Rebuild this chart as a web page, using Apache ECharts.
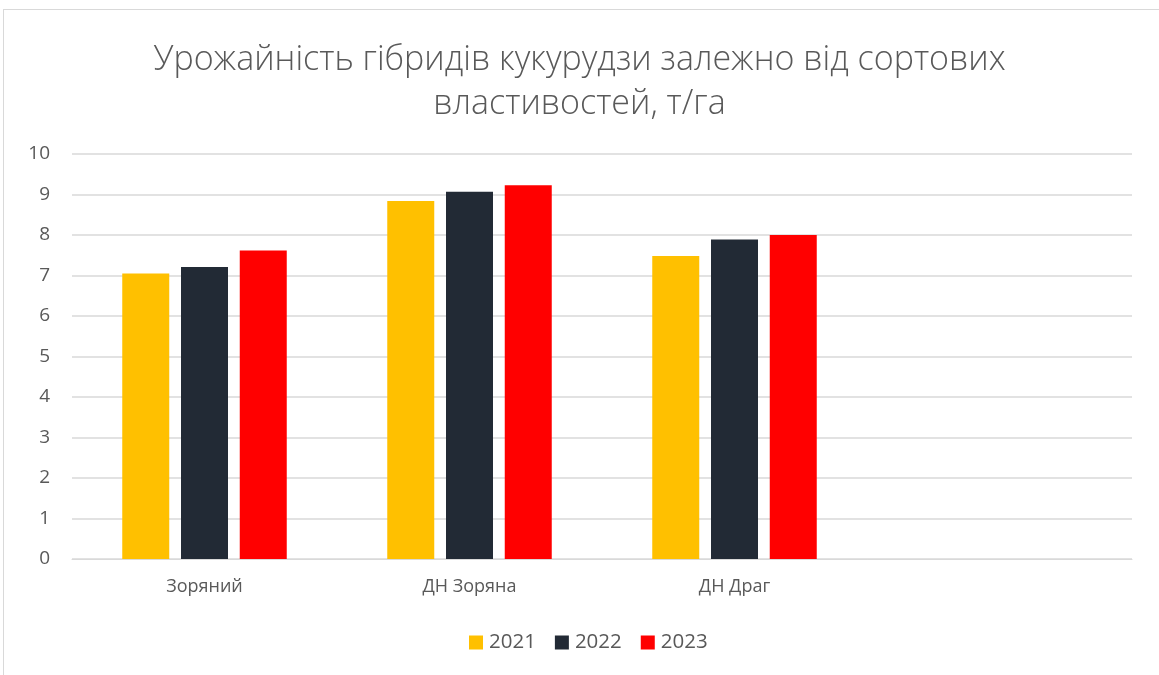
<!DOCTYPE html>
<html>
<head>
<meta charset="utf-8">
<script src="https://cdn.jsdelivr.net/npm/echarts@6/dist/echarts.min.js"></script>
<style>
  html, body { margin: 0; padding: 0; background: #fff; }
  .frame {
    position: absolute; left: 3px; top: 9px; width: 1170px; height: 680px;
    border: 1px solid #d9d9d9; box-sizing: border-box;
  }
  #chart { position: absolute; left: 0; top: 0; width: 1159px; height: 675px; }
</style>
</head>
<body>
<div class="frame"></div>
<div id="chart"></div>
<script>
// categories (the 4th slot is empty in the original)
const hybrids = ['Зоряний', 'ДН Зоряна', 'ДН Драг', '']
const years = ['2021', '2022', '2023']
const yield2021 = [7.05, 8.84, 7.48, null]
const yield2022 = [7.21, 9.07, 7.89, null]
const yield2023 = [7.62, 9.23, 8.0, null]
const colors = ['#FFC000', '#222A35', '#FF0000']

const font = '"Open Sans", "Noto Sans", sans-serif'
const chart = echarts.init(document.getElementById('chart'))

const mkSeries = (name, data, color) => ({
  name,
  type: 'bar',
  data,
  barWidth: 47,
  barGap: '25%',
  itemStyle: { color }
})

chart.setOption({
  animation: false,
  title: {
    text: 'Урожайність гібридів кукурудзи залежно від сортових\nвластивостей, т/га',
    left: 'center',
    top: 33,
    textStyle: {
      fontFamily: font,
      fontWeight: 300,
      fontSize: 34,
      lineHeight: 44,
      color: '#595959'
    }
  },
  legend: {
    data: years,
    bottom: 17,
    left: 464,
    icon: 'rect',
    itemWidth: 14,
    itemHeight: 14,
    itemGap: 19,
    textStyle: { fontFamily: font, fontSize: 20.5, color: '#595959', padding: [0, 0, 0, 1] }
  },
  grid: { left: 72, right: 27, top: 154, bottom: 116 },
  xAxis: {
    type: 'category',
    data: hybrids,
    axisLine: { lineStyle: { color: '#d9d9d9' } },
    axisTick: { show: false },
    axisLabel: { fontFamily: font, fontSize: 18, color: '#595959', margin: 19 }
  },
  yAxis: {
    type: 'value',
    min: 0,
    max: 10,
    interval: 1,
    axisLabel: { fontFamily: font, fontSize: 19, color: '#595959', margin: 22 },
    splitLine: { lineStyle: { color: '#d9d9d9', width: 1.5 } }
  },
  series: [
    mkSeries(years[0], yield2021, colors[0]),
    mkSeries(years[1], yield2022, colors[1]),
    mkSeries(years[2], yield2023, colors[2])
  ]
})
</script>
</body>
</html>
